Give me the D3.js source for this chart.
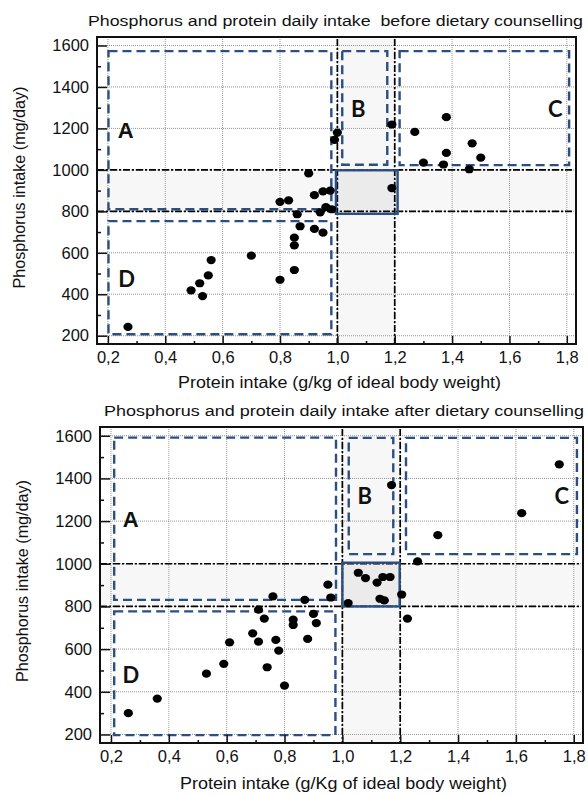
<!DOCTYPE html>
<html>
<head>
<meta charset="utf-8">
<script src="https://cdn.jsdelivr.net/npm/d3@7"></script>
<style>
  body { margin: 0; background: #fff; }
  text { font-family: "Liberation Sans", Arial, sans-serif; fill: #111; }
</style>
</head>
<body>
<div id="chart"></div>
<script>
// axis ticks
const xTicks = [0.2, 0.4, 0.6, 0.8, 1.0, 1.2, 1.4, 1.6, 1.8];
const xMinorTicks = [0.3, 0.5, 0.7, 0.9, 1.1, 1.3, 1.5, 1.7];
const yTicks = [200, 400, 600, 800, 1000, 1200, 1400, 1600];
const yMinorTicks = [300, 500, 700, 900, 1100, 1300, 1500];

// cut-offs of the recommended ranges
const proteinCut = [1.0, 1.2];
const phosphorusCut = [800, 1000];

// before dietary counselling
const beforeProtein = [0.27, 0.49, 0.52, 0.53, 0.55, 0.56, 0.70, 0.80, 0.80, 0.83, 0.85, 0.85,
  0.85, 0.86, 0.87, 0.90, 0.92, 0.92, 0.94, 0.95, 0.95, 0.96, 0.975, 0.98, 0.99, 1.00,
  1.19, 1.19, 1.27, 1.30, 1.37, 1.38, 1.38, 1.46, 1.47, 1.50];
const beforePhosphorus = [243, 419, 453, 391, 491, 565, 586, 470, 846, 853, 517, 673,
  636, 786, 728, 983, 878, 715, 795, 896, 697, 820, 900, 810, 1145, 1180,
  1219, 912, 1183, 1035, 1026, 1254, 1082, 1003, 1128, 1059];

// after dietary counselling
const afterProtein = [0.26, 0.36, 0.53, 0.59, 0.61, 0.69, 0.71, 0.71, 0.73, 0.74, 0.76, 0.77,
  0.78, 0.80, 0.83, 0.83, 0.87, 0.88, 0.90, 0.91, 0.95, 0.96, 1.02, 1.055, 1.08, 1.12,
  1.14, 1.165, 1.13, 1.145, 1.205, 1.225, 1.26, 1.33, 1.17, 1.62, 1.75];
const afterPhosphorus = [300, 368, 485, 531, 632, 674, 635, 785, 743, 515, 847, 643,
  593, 429, 738, 713, 831, 648, 765, 722, 902, 842, 816, 958, 933, 912,
  938, 938, 836, 828, 856, 743, 1011, 1134, 1369, 1237, 1466];

// zones A, B, C, D as [protein from, protein to, phosphorus from, phosphorus to]
const zoneNames = ["A", "B", "C", "D"];
const beforeZones = [[0.202, 0.979, 810, 1573], [1.017, 1.174, 1025, 1573],
  [1.217, 1.808, 1023, 1573], [0.202, 0.979, 207, 753]];
const afterZones = [[0.211, 0.978, 831, 1591], [1.022, 1.176, 1045, 1590],
  [1.22, 1.811, 1045, 1590], [0.211, 0.976, 197, 777]];
const beforeTarget = [0.995, 1.21, 788, 998];
const afterTarget = [1.0, 1.198, 800, 1005];
const beforeLabelX = [0.262, 1.073, 1.76, 0.265];
const beforeLabelY = [1152, 1256, 1256, 436];
const afterLabelX = [0.268, 1.077, 1.759, 0.269];
const afterLabelY = [1170, 1279, 1279, 442];

const xDomain = [0.162, 1.832];
const yDomain = [160, 1641];
const blue = "#2b4f80";

var svg = d3.select("#chart").append("svg")
    .attr("width", 588)
    .attr("height", 795);

const fmt = d => d3.format(".1f")(d).replace(".", ",");

function panel(p) {
    var x = d3.scaleLinear().domain(xDomain).range([p.left, p.right]);
    var y = d3.scaleLinear().domain(yDomain).range([p.bottom, p.top]);
    var g = svg.append("g");

    // light bands of the recommended ranges
    g.append("rect")
        .attr("x", p.left).attr("width", p.right - p.left)
        .attr("y", y(phosphorusCut[1])).attr("height", y(phosphorusCut[0]) - y(phosphorusCut[1]))
        .attr("fill", "#f7f7f7");
    g.append("rect")
        .attr("x", x(proteinCut[0])).attr("width", x(proteinCut[1]) - x(proteinCut[0]))
        .attr("y", p.top).attr("height", p.bottom - p.top)
        .attr("fill", "#f7f7f7");
    g.append("rect")
        .attr("x", x(p.target[0])).attr("width", x(p.target[1]) - x(p.target[0]))
        .attr("y", y(p.target[3])).attr("height", y(p.target[2]) - y(p.target[3]))
        .attr("fill", "#ebebeb");

    // dotted grid
    g.selectAll(".gx").data(xTicks).enter().append("line")
        .attr("x1", d => x(d)).attr("x2", d => x(d))
        .attr("y1", p.top).attr("y2", p.bottom)
        .attr("stroke", "#8a8a8a").attr("stroke-width", 0.9).attr("stroke-dasharray", "1,1");
    g.selectAll(".gy").data(yTicks).enter().append("line")
        .attr("x1", p.left).attr("x2", p.right)
        .attr("y1", d => y(d)).attr("y2", d => y(d))
        .attr("stroke", "#8a8a8a").attr("stroke-width", 0.9).attr("stroke-dasharray", "1,1");

    // dash-dot cut-off lines
    g.selectAll(".cx").data(proteinCut).enter().append("line")
        .attr("x1", d => x(d)).attr("x2", d => x(d))
        .attr("y1", p.top + 2).attr("y2", p.bottom)
        .attr("stroke", "#000").attr("stroke-width", 1.7).attr("stroke-dasharray", "7,2,2,2");
    g.selectAll(".cy").data(phosphorusCut).enter().append("line")
        .attr("x1", p.left).attr("x2", p.right - 2)
        .attr("y1", d => y(d)).attr("y2", d => y(d))
        .attr("stroke", "#000").attr("stroke-width", 1.7).attr("stroke-dasharray", "7,2,2,2");

    // dashed zones
    g.selectAll(".zone").data(p.zones).enter().append("rect")
        .attr("x", d => x(d[0])).attr("width", d => x(d[1]) - x(d[0]))
        .attr("y", d => y(d[3])).attr("height", d => y(d[2]) - y(d[3]))
        .attr("fill", "none").attr("stroke", blue)
        .attr("stroke-width", 2.4).attr("stroke-dasharray", "9,5");

    // target box
    g.append("rect")
        .attr("x", x(p.target[0])).attr("width", x(p.target[1]) - x(p.target[0]))
        .attr("y", y(p.target[3])).attr("height", y(p.target[2]) - y(p.target[3]))
        .attr("fill", "none").attr("stroke", blue).attr("stroke-width", 2.4);

    // zone letters
    g.selectAll(".lab").data(zoneNames).enter().append("text")
        .attr("x", (d, i) => x(p.labelX[i]))
        .attr("y", (d, i) => y(p.labelY[i]))
        .attr("text-anchor", "middle")
        .style("font-family", (d, i) => i == 0 ? "'Liberation Sans', Arial" : "Lato, sans-serif")
        .style("font-size", "22px")
        .style("font-weight", "bold")
        .text(d => d);

    // points
    g.selectAll("ellipse").data(p.xs).enter().append("ellipse")
        .attr("cx", d => x(d))
        .attr("cy", (d, i) => y(p.ys[i]))
        .attr("rx", 4.6).attr("ry", 4.1)
        .attr("fill", "#000");

    // axes with inner ticks
    g.append("g").attr("transform", `translate(0,${p.bottom})`)
        .call(d3.axisBottom(x).tickValues(xTicks).tickFormat(fmt)
            .tickSizeInner(-8).tickSizeOuter(0).tickPadding(7));
    g.append("g").attr("transform", `translate(0,${p.bottom})`)
        .call(d3.axisBottom(x).tickValues(xMinorTicks).tickFormat("")
            .tickSizeInner(-3).tickSizeOuter(0));
    g.append("g").attr("transform", `translate(${p.left},0)`)
        .call(d3.axisLeft(y).tickValues(yTicks).tickFormat(d3.format("d"))
            .tickSizeInner(-10).tickSizeOuter(0).tickPadding(8));
    g.append("g").attr("transform", `translate(${p.left},0)`)
        .call(d3.axisLeft(y).tickValues(yMinorTicks).tickFormat("")
            .tickSizeInner(-4).tickSizeOuter(0));
    g.selectAll(".domain").remove();
    g.selectAll(".tick line").attr("stroke", "#111").attr("stroke-width", 1.5);
    g.selectAll(".tick text").style("font-size", "16.5px").attr("fill", "#111");

    // frame
    g.append("rect")
        .attr("x", p.left).attr("y", p.top)
        .attr("width", p.right - p.left).attr("height", p.bottom - p.top)
        .attr("fill", "none").attr("stroke", "#111").attr("stroke-width", 2);

    // titles
    svg.append("text")
        .attr("x", p.titleX).attr("y", p.titleY)
        .attr("text-anchor", "middle")
        .attr("textLength", p.titleLen).attr("lengthAdjust", "spacingAndGlyphs")
        .style("font-size", "15.5px")
        .style("white-space", "pre")
        .text(p.title);
    svg.append("text")
        .attr("x", p.xLabelX).attr("y", p.xLabelY)
        .attr("text-anchor", "middle")
        .attr("textLength", p.xLabelLen).attr("lengthAdjust", "spacingAndGlyphs")
        .style("font-size", "16px")
        .text(p.xLabel);
    svg.append("text")
        .attr("transform", `translate(${p.yLabelX},${p.yLabelY}) rotate(-90)`)
        .attr("text-anchor", "middle")
        .attr("textLength", 202).attr("lengthAdjust", "spacingAndGlyphs")
        .style("font-size", "16px")
        .text("Phosphorus intake (mg/day)");
}

panel({
    left: 97, right: 576, top: 37, bottom: 344,
    xs: beforeProtein, ys: beforePhosphorus,
    zones: beforeZones, target: beforeTarget,
    labelX: beforeLabelX, labelY: beforeLabelY,
    title: "Phosphorus and protein daily intake  before dietary counselling",
    titleX: 335.5, titleY: 26, titleLen: 495,
    xLabel: "Protein intake (g/kg of ideal body weight)",
    xLabelX: 339.5, xLabelY: 388, xLabelLen: 323,
    yLabelX: 24.5, yLabelY: 187.5
});

panel({
    left: 100, right: 583, top: 427, bottom: 743,
    xs: afterProtein, ys: afterPhosphorus,
    zones: afterZones, target: afterTarget,
    labelX: afterLabelX, labelY: afterLabelY,
    title: "Phosphorus and protein daily intake after dietary counselling",
    titleX: 344, titleY: 416, titleLen: 480,
    xLabel: "Protein intake (g/Kg of ideal body weight)",
    xLabelX: 343.5, xLabelY: 789, xLabelLen: 327,
    yLabelX: 28, yLabelY: 581
});
</script>
</body>
</html>
